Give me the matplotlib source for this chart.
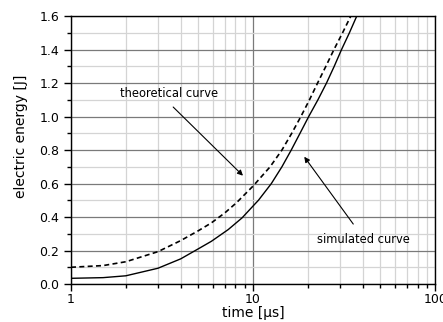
import matplotlib
matplotlib.use("Agg")
import matplotlib.pyplot as plt
from matplotlib.ticker import MultipleLocator, LogLocator, FixedFormatter, FixedLocator

# theoretical curve (dashed)
t_theo = [1, 1.5, 2, 3, 4, 5, 5.9, 7, 8.1, 10, 12.4, 14.4, 16.3, 18.3, 20.4, 22.6, 25.1, 27.8, 31.0, 34.4]
e_theo = [0.100, 0.110, 0.133, 0.193, 0.259, 0.318, 0.365, 0.425, 0.485, 0.585, 0.700, 0.800, 0.900,
          1.00, 1.10, 1.20, 1.30, 1.40, 1.50, 1.60]

# simulated curve (solid)
t_sim = [1, 1.5, 2, 3, 4, 5, 5.9, 7.3, 8.7, 10, 10.7, 12.6, 14.4, 16.2, 18.1, 20.2, 22.7, 25.3, 27.9, 30.6,
         33.8, 37.1]
e_sim = [0.034, 0.038, 0.049, 0.094, 0.150, 0.210, 0.255, 0.325, 0.395, 0.466, 0.500, 0.600, 0.700, 0.800,
         0.900, 1.00, 1.10, 1.20, 1.30, 1.40, 1.50, 1.60]

x_ticks = [1, 10, 100]
x_labels = ["1", "10", "100"]
y_ticks = [0.0, 0.2, 0.4, 0.6, 0.8, 1.0, 1.2, 1.4, 1.6]

fig = plt.figure(figsize=(4.43, 3.22), dpi=100)
ax = fig.add_axes([0.1603, 0.118, 0.822, 0.832])

ax.plot(t_theo, e_theo, color="black", lw=1.2, ls=(0, (3, 2)))
ax.plot(t_sim, e_sim, color="black", lw=1.0)

ax.set_xscale("log")
ax.set_xlim(1, 100)
ax.set_ylim(0, 1.6)
ax.xaxis.set_major_locator(FixedLocator(x_ticks))
ax.xaxis.set_major_formatter(FixedFormatter(x_labels))
ax.xaxis.set_minor_locator(LogLocator(base=10, subs=range(2, 10)))
ax.xaxis.set_minor_formatter(plt.NullFormatter())
ax.set_yticks(y_ticks)
ax.set_yticklabels([f"{v:.1f}" for v in y_ticks])
ax.yaxis.set_minor_locator(MultipleLocator(0.1))

ax.grid(which="major", color="#7a7a7a", lw=0.9)
ax.grid(which="minor", color="#d4d4d4", lw=0.9)
ax.set_axisbelow(True)

ax.tick_params(which="major", direction="out", length=5, width=1, labelsize=9, colors="black")
ax.tick_params(which="minor", direction="out", length=3, width=1)
ax.tick_params(axis="x", pad=1.5)
for s in ax.spines.values():
    s.set_linewidth(1)
    s.set_color("black")

ax.set_xlabel("time [μs]", fontsize=10, labelpad=0)
ax.set_ylabel("electric energy [J]", fontsize=10)
ax.yaxis.set_label_coords(-0.117, 0.55)

arrow = dict(arrowstyle="-|>", color="black", lw=0.8, mutation_scale=8, shrinkA=0, shrinkB=0)
ax.annotate("", xy=(8.8, 0.647), xytext=(3.64, 1.057), arrowprops=arrow)
ax.text(3.45, 1.14, "theoretical curve", fontsize=8.3, ha="center", va="center")
ax.annotate("", xy=(19.1, 0.76), xytext=(35.5, 0.358), arrowprops=arrow)
ax.text(40.5, 0.267, "simulated curve", fontsize=8.3, ha="center", va="center")

fig.savefig("out.png", dpi=100)
